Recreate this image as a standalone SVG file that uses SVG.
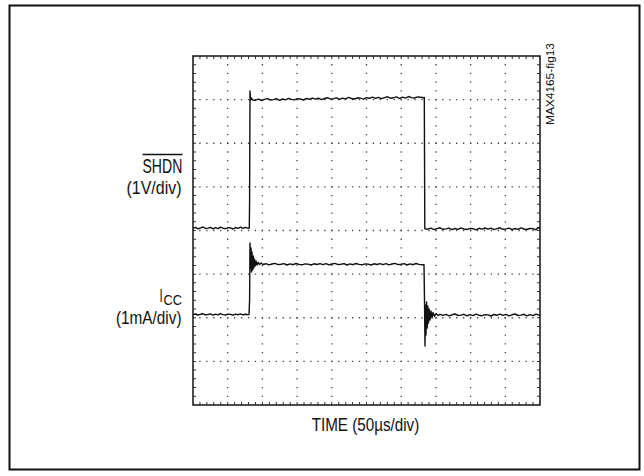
<svg xmlns="http://www.w3.org/2000/svg" width="644" height="476" viewBox="0 0 644 476">
<style>
.lbl{font-family:"Liberation Sans Narrow","Liberation Sans",Arial,sans-serif;fill:#111;}
.trace{fill:none;stroke:#111;stroke-width:1.4;stroke-linejoin:round;}
.gv{stroke:#444;stroke-width:1.3;stroke-dasharray:1.3 7.425;stroke-dashoffset:0.65;}
.gh{stroke:#444;stroke-width:1.3;stroke-dasharray:1.3 5.64;stroke-dashoffset:0.65;}
.tickh{stroke:#333;stroke-width:3;stroke-dasharray:1 5.94;stroke-dashoffset:0.5;}
.tickv{stroke:#333;stroke-width:3;stroke-dasharray:1 7.725;stroke-dashoffset:0.5;}
</style>
<rect width="644" height="476" fill="#fff"/>
<g id="outer-frame">
<rect x="9.5" y="5.5" width="630" height="464" fill="none" stroke="#111" stroke-width="2"/>
</g>
<g id="graticule">
<g id="grid-vertical">
<line class="gv" x1="227.7" y1="56" x2="227.7" y2="405"/>
<line class="gv" x1="262.4" y1="56" x2="262.4" y2="405"/>
<line class="gv" x1="297.1" y1="56" x2="297.1" y2="405"/>
<line class="gv" x1="331.8" y1="56" x2="331.8" y2="405"/>
<line class="gv" x1="366.5" y1="56" x2="366.5" y2="405"/>
<line class="gv" x1="401.2" y1="56" x2="401.2" y2="405"/>
<line class="gv" x1="435.9" y1="56" x2="435.9" y2="405"/>
<line class="gv" x1="470.6" y1="56" x2="470.6" y2="405"/>
<line class="gv" x1="505.3" y1="56" x2="505.3" y2="405"/>
</g>
<g id="grid-horizontal">
<line class="gh" x1="193" y1="99.6" x2="540" y2="99.6"/>
<line class="gh" x1="193" y1="143.25" x2="540" y2="143.25"/>
<line class="gh" x1="193" y1="186.9" x2="540" y2="186.9"/>
<line class="gh" x1="193" y1="230.5" x2="540" y2="230.5"/>
<line class="gh" x1="193" y1="274.1" x2="540" y2="274.1"/>
<line class="gh" x1="193" y1="317.75" x2="540" y2="317.75"/>
<line class="gh" x1="193" y1="361.4" x2="540" y2="361.4"/>
</g>
<g id="edge-ticks">
<line class="tickh" x1="193" y1="57.5" x2="540" y2="57.5"/>
<line class="tickh" x1="193" y1="403.5" x2="540" y2="403.5"/>
<line class="tickv" x1="194.5" y1="56" x2="194.5" y2="405"/>
<line class="tickv" x1="538.5" y1="56" x2="538.5" y2="405"/>
</g>
<rect id="plot-frame" x="193" y="56" width="347" height="349" fill="none" stroke="#222" stroke-width="1.6"/>
</g>
<g id="traces">
<polyline id="trace-shdn" class="trace" points="193,228.4 195.5,227.4 198,228.8 200.5,227.8 203,227 205.5,228.5 208,228.1 210.5,227.3 213,228.9 215.5,227.7 218,228.6 220.5,227.1 223,228.2 225.5,228.7 228,227.6 230.5,227.9 233,229 235.5,227.5 238,228.3 240.5,227.2 243,228.4 245.5,227.4 248,228.3 249.3,228 249.6,200 250,91 250.6,100 251.5,98 252.5,100 255.5,100.2 258.5,99.1 261.5,100.5 264.5,99.4 267.5,98.6 270.5,100 273.5,99.6 276.5,98.7 279.5,100.3 282.5,99 285.5,99.9 288.5,98.4 291.5,99.4 294.5,99.9 297.5,98.7 300.5,99 303.5,100 306.5,98.5 309.5,99.2 312.5,98.1 315.5,99.2 318.5,98.2 321.5,99.6 324.5,98.5 327.5,97.7 330.5,99.1 333.5,98.7 336.5,97.8 339.5,99.4 342.5,98.1 345.5,99 348.5,97.4 351.5,98.5 354.5,99 357.5,97.8 360.5,98.1 363.5,99.1 366.5,97.6 369.5,98.3 372.5,97.2 375.5,98.3 378.5,97.3 381.5,98.6 384.5,97.6 387.5,96.8 390.5,98.2 393.5,97.8 396.5,96.9 399.5,98.5 402.5,97.2 405.5,98.1 408.5,96.5 411.5,97.6 414.5,98 417.5,96.9 420.5,97.2 423.5,97.7 424.3,97.5 424.8,228.5 426,229 428,229.2 431,228.2 434,229.6 437,228.6 440,227.8 443,229.3 446,228.9 449,228.1 452,229.7 455,228.5 458,229.4 461,227.9 464,229 467,229.5 470,228.4 473,228.7 476,229.8 479,228.3 482,229.1 485,228 488,229.2 491,228.2 494,229.6 497,228.6 500,227.8 503,229.3 506,228.9 509,228.1 512,229.7 515,228.5 518,229.4 521,227.9 524,229 527,229.5 530,228.4 533,228.7 536,229.8 538,227.5 540,228.5"/>
<polyline id="trace-icc" class="trace" points="193,314.7 195.5,314 198,315 200.5,314.3 203,313.8 205.5,314.8 208,314.5 210.5,313.9 213,315.1 215.5,314.2 218,314.9 220.5,313.7 223,314.6 225.5,315 228,314.2 230.5,314.4 233,315.2 235.5,314.1 238,314.7 240.5,313.9 243,314.8 245.5,314.2 248,314.6 249,314.5 249.6,300 250,243 250.5,268 251,248 251.5,272 252,252 252.6,270 253.2,256 253.8,268 254.5,259 255.2,266 256,261 257,265 258,262.5 259.5,264.5 261,263 263,264.5 266,263.7 269,264.9 272,264 275,263.4 278,264.6 281,264.3 284,263.6 287,265 290,263.9 293,264.7 296,263.5 299,264.4 302,264.8 305,263.9 308,264.1 311,265 314,263.8 317,264.5 320,263.6 323,264.6 326,263.7 329,264.9 332,264 335,263.4 338,264.6 341,264.3 344,263.6 347,265 350,263.9 353,264.7 356,263.5 359,264.4 362,264.8 365,263.9 368,264.1 371,265 374,263.8 377,264.5 380,263.6 383,264.6 386,263.7 389,264.9 392,264 395,263.4 398,264.6 401,264.3 404,263.6 407,265 410,263.9 413,264.7 416,263.5 419,264.4 422,264.8 424,264.6 424.5,300 425,346 425.5,305 426,335 426.6,302 427.2,328 427.8,306 428.5,323 429.2,309 430,320 431,311 432,318 433,312.5 434.5,316.5 436,313.5 438,315.5 440,314.3 443,315.4 446,314.4 449,315.8 452,314.8 455,314 458,315.5 461,315.1 464,314.3 467,315.9 470,314.7 473,315.6 476,314.1 479,315.2 482,315.7 485,314.6 488,314.9 491,316 494,314.5 497,315.3 500,314.2 503,315.4 506,314.4 509,315.8 512,314.8 515,314 518,315.5 521,315.1 524,314.3 527,315.9 530,314.7 533,315.6 536,314.1 539,315.2 540,315"/>
</g>
<g id="label-shdn">
<text class="lbl" x="142.5" y="173" font-size="20" textLength="39.8" lengthAdjust="spacingAndGlyphs">SHDN</text>
<line x1="142.5" y1="154.5" x2="182.5" y2="154.5" stroke="#111" stroke-width="1.3"/>
<text class="lbl" x="126.5" y="194" font-size="19" textLength="55" lengthAdjust="spacingAndGlyphs">(1V/div)</text>
</g>
<g id="label-icc">
<text class="lbl" x="159.5" y="302" font-size="18" textLength="3.2" lengthAdjust="spacingAndGlyphs">I</text>
<text class="lbl" x="163.5" y="305" font-size="14" textLength="18.5" lengthAdjust="spacingAndGlyphs">CC</text>
<text class="lbl" x="116" y="324" font-size="19" textLength="65.5" lengthAdjust="spacingAndGlyphs">(1mA/div)</text>
</g>
<g id="label-time">
<text class="lbl" x="311.7" y="431" font-size="17.5" textLength="107.6" lengthAdjust="spacingAndGlyphs">TIME (50µs/div)</text>
</g>
<g id="label-fig">
<text class="lbl" transform="translate(554,125) rotate(-90)" font-size="11.5" textLength="82" lengthAdjust="spacingAndGlyphs">MAX4165-fig13</text>
</g>
</svg>
